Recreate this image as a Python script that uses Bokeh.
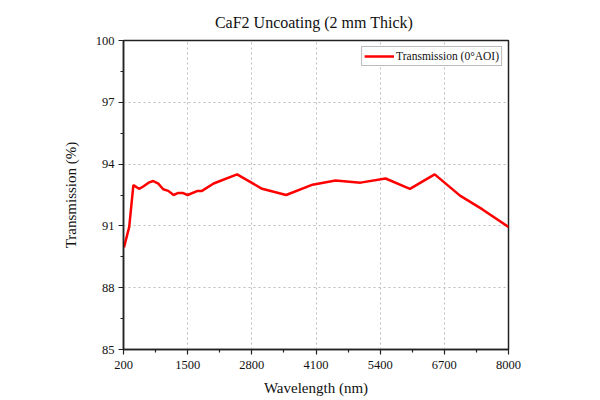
from bokeh.plotting import figure
from bokeh.models import FixedTicker, Range1d, Legend, LegendItem
from bokeh.embed import file_html
from bokeh.resources import INLINE

wavelength = [210, 316, 400, 515, 593, 708, 800, 905, 1005, 1107, 1215, 1310, 1397, 1499,
              1702, 1790, 2026, 2501, 3008, 3495, 4030, 4496, 5003, 5510, 6003, 6505,
              7018, 7473, 8000]
transmission = [89.95, 90.95, 92.98, 92.8, 92.9, 93.1, 93.18, 93.05, 92.78, 92.7, 92.5, 92.6,
                92.6, 92.5, 92.7, 92.7, 93.06, 93.5, 92.8, 92.5, 93.0, 93.2, 93.1, 93.3,
                92.8, 93.5, 92.47, 91.8, 90.95]
x_ticks = [200, 1500, 2800, 4100, 5400, 6700, 8000]
y_ticks = [85, 88, 91, 94, 97, 100]
title_text = "CaF2 Uncoating (2 mm  Thick)"
x_label = "Wavelength (nm)"
y_label = "Transmission (%)"
series_name = "Transmission (0°AOI)"

FONT = "Liberation Serif"

p = figure(width=592, height=392, output_backend="svg", toolbar_location=None,
           x_range=Range1d(200, 8000), y_range=Range1d(85, 100),
           min_border_left=123, min_border_right=84, min_border_top=40, min_border_bottom=43)
p.frame_width = 385
p.frame_height = 309

p.title.text = title_text
p.title.text_font = FONT
p.title.text_font_size = "16px"
p.title.text_font_style = "normal"
p.title.text_color = "#111111"
p.title.align = "center"
p.title.vertical_align = "top"
p.title.standoff = 16

x_minor = [(a + b) / 2 for a, b in zip(x_ticks[:-1], x_ticks[1:])]
y_minor = [(a + b) / 2 for a, b in zip(y_ticks[:-1], y_ticks[1:])]
p.xaxis.ticker = FixedTicker(ticks=x_ticks, minor_ticks=x_minor)
p.yaxis.ticker = FixedTicker(ticks=y_ticks, minor_ticks=y_minor)

for ax in (p.xaxis, p.yaxis):
    ax.axis_line_color = "#222222"
    ax.axis_line_width = 1.5
    ax.major_tick_line_color = "#222222"
    ax.minor_tick_line_color = "#222222"
    ax.major_tick_line_width = 1.2
    ax.minor_tick_line_width = 1.2
    ax.major_tick_out = 5
    ax.major_tick_in = 0
    ax.minor_tick_out = 3
    ax.minor_tick_in = 0
    ax.major_label_text_font = FONT
    ax.major_label_text_font_size = "12.5px"
    ax.major_label_text_color = "#111111"
    ax.axis_label_text_font = FONT
    ax.axis_label_text_font_size = "15px"
    ax.axis_label_text_font_style = "normal"
    ax.axis_label_text_color = "#111111"

p.xaxis.axis_label = x_label
p.yaxis.axis_label = y_label
p.xaxis.major_label_standoff = 6
p.yaxis.major_label_standoff = 4
p.xaxis.axis_label_standoff = 8
p.yaxis.axis_label_standoff = 14

p.outline_line_color = "#222222"
p.outline_line_width = 1.5

p.xgrid.grid_line_color = "#bbbbbb"
p.ygrid.grid_line_color = "#bbbbbb"
p.xgrid.grid_line_dash = "2 3"
p.ygrid.grid_line_dash = "2 3"
p.xgrid.grid_line_width = 1
p.ygrid.grid_line_width = 1

r = p.line(wavelength, transmission, line_color="#ff0000", line_width=2.5)

legend = Legend(items=[LegendItem(label=series_name, renderers=[r])],
                location="top_right")
legend.label_text_font = FONT
legend.label_text_font_size = "11.5px"
legend.label_text_color = "#111111"
legend.glyph_width = 30
legend.glyph_height = 14
legend.label_height = 14
legend.label_standoff = 2
legend.padding = 2
legend.margin = 6
legend.border_line_color = "#777777"
legend.border_line_width = 1
legend.background_fill_color = "white"
legend.background_fill_alpha = 1
p.add_layout(legend)

open("out.html", "w").write(file_html(p, INLINE))
